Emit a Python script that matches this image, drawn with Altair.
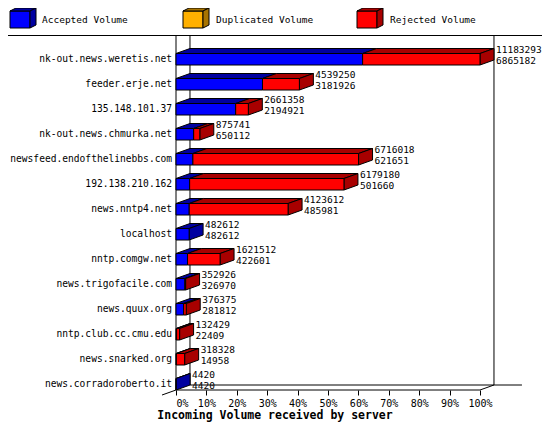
import altair as alt
import pandas as pd

# ---- data ----
hosts = [
    "nk-out.news.weretis.net", "feeder.erje.net", "135.148.101.37",
    "nk-out.news.chmurka.net", "newsfeed.endofthelinebbs.com", "192.138.210.162",
    "news.nntp4.net", "localhost", "nntp.comgw.net", "news.trigofacile.com",
    "news.quux.org", "nntp.club.cc.cmu.edu", "news.snarked.org", "news.corradoroberto.it",
]
total_volume = [11183293, 4539250, 2661358, 875741, 6716018, 6179180, 4123612,
                482612, 1621512, 352926, 376375, 132429, 318328, 4420]
accepted_volume = [6865182, 3181926, 2194921, 650112, 621651, 501660, 485981,
                   482612, 422601, 326970, 281812, 22409, 14958, 4420]
legend_names = ["Accepted Volume", "Duplicated Volume", "Rejected Volume"]
tick_values = list(range(0, 101, 10))
x_title = "Incoming Volume received by server"

# ---- styling ----
FONT = "DejaVu Sans Mono"
BLUE, DBLUE = "#0000ff", "#0000a0"
YEL, DYEL = "#ffb000", "#a87400"
RED, DRED = "#ff0000", "#a80000"
legend_cols = [(BLUE, DBLUE), (YEL, DYEL), (RED, DRED)]

DX = 4.6      # 3-D depth, in % units
DY = 0.2      # 3-D depth, in row units
FT, FB = 0.22, 0.24
X_MAX = 116.45
Y_TOP, Y_BOT = -0.92, 13.24

xs = alt.Scale(domain=[0, X_MAX], nice=False, zero=False)
ys = alt.Scale(domain=[Y_TOP, Y_BOT], nice=False, zero=False, reverse=True)
xax = alt.Axis(
    values=tick_values, labelExpr="datum.value + '%'", domain=False, grid=False,
    ticks=True, tickSize=5, tickColor="black", tickWidth=1, labelColor="black",
    labelFont=FONT, labelFontSize=10, labelPadding=3, title=None)

maxv = max(total_volume)
fronts, tops, sides, labels, hostrows = [], [], [], [], []
for i, (h, t, a) in enumerate(zip(hosts, total_volume, accepted_volume)):
    pa = a / maxv * 100
    pt = t / maxv * 100
    segs = [(0.0, pa, BLUE, DBLUE), (pa, pt, RED, DRED)]
    segs = [s for s in segs if s[1] - s[0] > 1e-9]
    for k, (x0, x1, c, dc) in enumerate(segs):
        fid = f"{i}-{k}"
        fronts.append(dict(x0=x0, x1=x1, y0=i - FT, y1=i + FB, color=c))
        tops.append(dict(face=fid, y=i - FT, x=x0, x2=x1, color=dc))
        tops.append(dict(face=fid, y=i - FT - DY, x=x0 + DX, x2=x1 + DX, color=dc))
    lx1, ldc = segs[-1][1], segs[-1][3]
    sides.append(dict(face=str(i), x=lx1, y=i - FT, y2=i + FB, color=ldc))
    sides.append(dict(face=str(i), x=lx1 + DX, y=i - FT - DY, y2=i + FB - DY, color=ldc))
    labels.append(dict(x=pt + DX, y=i - 0.36, text=str(t)))
    labels.append(dict(x=pt + DX, y=i + 0.08, text=str(a)))
    hostrows.append(dict(row=i, host=h))

lines = pd.DataFrame([
    dict(x=0, y=Y_TOP, x2=0, y2=Y_BOT),
    dict(x=DX, y=Y_TOP, x2=DX, y2=Y_BOT - DY),
    dict(x=100 + DX, y=Y_TOP, x2=100 + DX, y2=Y_BOT - DY),
    dict(x=DX, y=Y_BOT - DY, x2=113.8, y2=Y_BOT - DY),
    dict(x=0, y=Y_BOT, x2=100, y2=Y_BOT),
    dict(x=100, y=Y_BOT, x2=100 + DX, y2=Y_BOT - DY),
    dict(x=0, y=Y_BOT, x2=-DX, y2=Y_BOT + DY),
])

grid = alt.Chart(lines).mark_rule(color="black", strokeWidth=1).encode(
    x=alt.X("x:Q", scale=xs, axis=xax), x2="x2:Q",
    y=alt.Y("y:Q", scale=ys, axis=None), y2="y2:Q")

top_layer = alt.Chart(pd.DataFrame(tops)).mark_area(
    orient="horizontal", stroke="black", strokeWidth=1, opacity=1).encode(
    y=alt.Y("y:Q", scale=ys, axis=None),
    x=alt.X("x:Q", scale=xs, axis=xax, stack=None), x2="x2:Q",
    detail="face:N", fill=alt.Fill("color:N", scale=None))

side_layer = alt.Chart(pd.DataFrame(sides)).mark_area(
    orient="vertical", stroke="black", strokeWidth=1, opacity=1).encode(
    x=alt.X("x:Q", scale=xs, axis=xax),
    y=alt.Y("y:Q", scale=ys, axis=None, stack=None), y2="y2:Q",
    detail="face:N", fill=alt.Fill("color:N", scale=None))

front_layer = alt.Chart(pd.DataFrame(fronts)).mark_rect(
    stroke="black", strokeWidth=1, opacity=1).encode(
    x=alt.X("x0:Q", scale=xs, axis=xax), x2="x1:Q",
    y=alt.Y("y0:Q", scale=ys, axis=None), y2="y1:Q",
    fill=alt.Fill("color:N", scale=None))

value_text = alt.Chart(pd.DataFrame(labels)).mark_text(
    align="left", baseline="middle", dx=2, font=FONT, fontSize=9.5, color="black").encode(
    x=alt.X("x:Q", scale=xs, axis=xax), y=alt.Y("y:Q", scale=ys, axis=None), text="text:N")

host_text = alt.Chart(pd.DataFrame(hostrows)).mark_text(
    align="right", baseline="middle", font=FONT, fontSize=9.6, color="black").encode(
    x=alt.value(-4), y=alt.Y("row:Q", scale=ys, axis=None), text="host:N")

one = pd.DataFrame({"k": [0]})
title_text = alt.Chart(one).mark_text(
    align="center", baseline="middle", font=FONT, fontSize=11.5, fontWeight="bold",
    color="black").encode(x=alt.value(99), y=alt.value(380), text=alt.value(x_title))

separator = alt.Chart(one).mark_rule(color="black", strokeWidth=1).encode(
    x=alt.value(-168), x2=alt.value(366), y=alt.value(-0.5))

legend_layers = []
box_x = [-166, 7, 181]
text_x = [-134, 40, 214]
shapes = [
    ("M0,0H20V17H0Z", 0),
    ("M0,0L6,-3H26L20,0Z", 1),
    ("M20,0L26,-3V14L20,17Z", 1),
]
for j, name in enumerate(legend_names):
    for path, dark in shapes:
        legend_layers.append(alt.Chart(one).mark_point(
            shape=path, size=4, filled=True, opacity=1,
            fill=legend_cols[j][dark], stroke="black", strokeWidth=1).encode(
            x=alt.value(box_x[j]), y=alt.value(-25)))
    legend_layers.append(alt.Chart(one).mark_text(
        align="left", baseline="middle", font=FONT, fontSize=9.5, color="black").encode(
        x=alt.value(text_x[j]), y=alt.value(-16), text=alt.value(name)))

chart = alt.layer(
    grid, top_layer, side_layer, front_layer, value_text, host_text, title_text,
    separator, *legend_layers,
).properties(
    width=354, height=354,
    padding={"left": 168, "top": 28, "right": 12, "bottom": 32},
    autosize=alt.AutoSizeParams(type="none"),
    background="white",
).configure_view(stroke=None)

chart.save("out.html", embed_options={"renderer": "svg", "actions": False})
